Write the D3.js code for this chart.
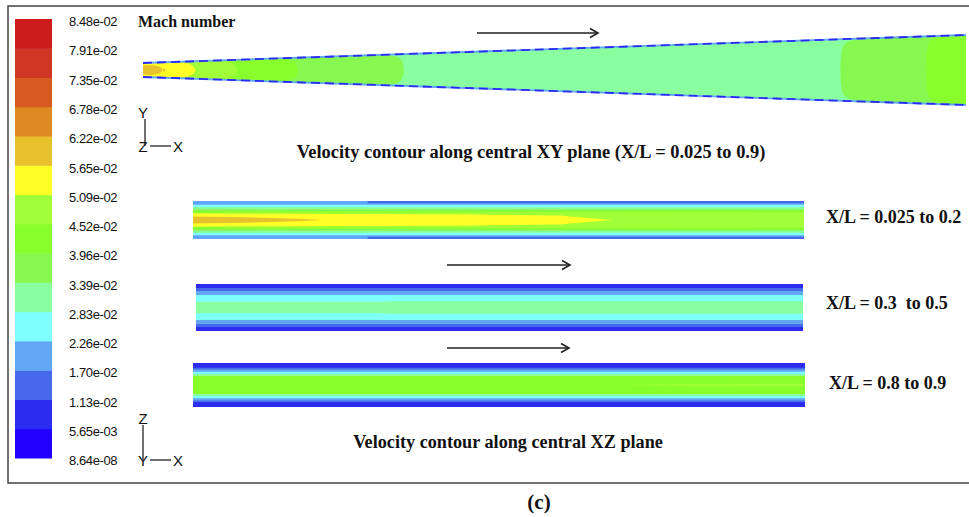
<!DOCTYPE html>
<html>
<head>
<meta charset="utf-8">
<script src="https://cdn.jsdelivr.net/npm/d3@7"></script>
<style>
  body { margin: 0; background: #fff; }
  .serif { font-family: "Liberation Serif", "Times New Roman", serif; font-weight: bold; fill: #111; }
  .sans { font-family: "Liberation Sans", Arial, sans-serif; fill: #111; }
</style>
</head>
<body>
<div id="chart"></div>
<script>
// Mach number levels, bottom to top (16 labels, 15 colour bands)
var levelLabels = ["8.64e-08","5.65e-03","1.13e-02","1.70e-02","2.26e-02","2.83e-02","3.39e-02",
  "3.96e-02","4.52e-02","5.09e-02","5.65e-02","6.22e-02","6.78e-02","7.35e-02","7.91e-02","8.48e-02"];
var levelColors = ["#2200ff","#2c2cf0","#4668ea","#62a6f6","#80ffff","#8affa0","#86f850",
  "#88ff2c","#a0ff38","#ffff26","#e8c22c","#de8a24","#d65a22","#d03624","#cc1c1c"];

// central XY plane: base level and zones along X/L (0.025 to 0.9)
var xyRange = [0.025, 0.9];
var xyBase = 5;
var xyZones = [
  {level: 6, from: 0.025, to: 0.301},
  {level: 7, from: 0.025, to: 0.189},
  {level: 8, from: 0.025, to: 0.125},
  {level: 9, from: 0.025, to: 0.081},
  {level: 10, from: 0.025, to: 0.048},
  {level: 6, from: 0.769, to: 0.9},
  {level: 7, from: 0.860, to: 0.9}
];

// central XZ plane strips: layers as [X/L, half thickness (fraction)] outlines
var xzLabels = ["X/L = 0.025 to 0.2", "X/L = 0.3  to 0.5", "X/L = 0.8 to 0.9"];
var xzRanges = [[0.025, 0.2], [0.3, 0.5], [0.8, 0.9]];
var xz1Layers = [
  {level: 3, pts: [[0.025, 1], [0.2, 1]]},
  {level: 2, pts: [[0.075, 1], [0.2, 1]]},
  {level: 3, pts: [[0.025, 0.88], [0.2, 0.88]]},
  {level: 4, pts: [[0.025, 0.8], [0.2, 0.8]]},
  {level: 5, pts: [[0.025, 0.68], [0.2, 0.68]]},
  {level: 6, pts: [[0.025, 0.57], [0.2, 0.57]]},
  {level: 7, pts: [[0.025, 0.48], [0.2, 0.5]]},
  {level: 8, pts: [[0.025, 0.4], [0.2, 0.42]]},
  {level: 9, pts: [[0.025, 0.34], [0.1, 0.3], [0.13, 0.24], [0.145, 0]]},
  {level: 10, pts: [[0.025, 0.18], [0.04, 0.15], [0.055, 0.06], [0.062, 0]]}
];
var xz2Layers = [
  {level: 1, pts: [[0.3, 1], [0.5, 1]]},
  {level: 2, pts: [[0.3, 0.83], [0.5, 0.83]]},
  {level: 3, pts: [[0.3, 0.7], [0.5, 0.7]]},
  {level: 4, pts: [[0.3, 0.53], [0.5, 0.53]]},
  {level: 5, pts: [[0.3, 0.24], [0.36, 0.24], [0.365, 0.27], [0.5, 0.27]]}
];
var xz3Layers = [
  {level: 1, pts: [[0.8, 1], [0.9, 1]]},
  {level: 2, pts: [[0.8, 0.78], [0.9, 0.78]]},
  {level: 3, pts: [[0.8, 0.7], [0.9, 0.7]]},
  {level: 4, pts: [[0.8, 0.6], [0.9, 0.6]]},
  {level: 5, pts: [[0.8, 0.5], [0.9, 0.5]]},
  {level: 7, pts: [[0.8, 0.41], [0.9, 0.41]]},
  {level: 8, pts: [[0.87, 0], [0.88, 0.04], [0.9, 0.06]]}
];
var xzLayers = [xz1Layers, xz2Layers, xz3Layers];

var width = 969, height = 517;

var svg = d3.select("#chart")
  .append("svg")
    .attr("width", width)
    .attr("height", height);

// frame
svg.append("rect")
  .attr("x", 8).attr("y", 6)
  .attr("width", 975).attr("height", 477)
  .attr("fill", "none")
  .attr("stroke", "#444")
  .attr("stroke-width", 1.5);

// colour bar
var yBar = d3.scaleLinear().domain([0, 15]).range([458, 19]);
svg.append("g")
  .selectAll("rect")
  .data(levelColors)
  .enter()
  .append("rect")
    .attr("x", 15)
    .attr("width", 37)
    .attr("y", function (d, i) { return yBar(i + 1); })
    .attr("height", function (d, i) { return yBar(i) - yBar(i + 1) + 0.5; })
    .attr("fill", function (d) { return d; });

var barAxis = svg.append("g")
  .attr("transform", "translate(52,2.5)")
  .call(d3.axisRight(yBar)
    .tickValues(d3.range(levelLabels.length))
    .tickFormat(function (i) { return levelLabels[i]; })
    .tickSize(0)
    .tickPadding(17));
barAxis.select(".domain").remove();
barAxis.selectAll("text")
  .attr("class", "sans")
  .style("font-size", "13px")
  .style("letter-spacing", "-0.4px")
  .attr("fill", "#111");

svg.append("text")
  .attr("class", "serif")
  .attr("x", 138).attr("y", 27)
  .style("font-size", "16px")
  .text("Mach number");

// ---- XY plane (diverging duct) ----
var xXY = d3.scaleLinear().domain(xyRange).range([143, 966]);
var hXY = d3.scaleLinear().domain(xyRange).range([7, 35]);
var cyXY = 70;

var wedge = [
  [xXY(xyRange[0]), cyXY - hXY(xyRange[0])],
  [xXY(xyRange[1]), cyXY - hXY(xyRange[1])],
  [xXY(xyRange[1]), cyXY + hXY(xyRange[1])],
  [xXY(xyRange[0]), cyXY + hXY(xyRange[0])]
];
svg.append("clipPath").attr("id", "wedgeClip")
  .append("path")
  .attr("d", d3.line().curve(d3.curveLinearClosed)(wedge));

svg.append("path")
  .attr("d", d3.line().curve(d3.curveLinearClosed)(wedge))
  .attr("fill", levelColors[xyBase]);

function zonePath(z) {
  var ins = z.level === 10 ? 3.8 : 2.5;
  var a = xXY(z.from), b = xXY(z.to);
  if (z.from === xyRange[0]) a -= 12;
  if (z.to === xyRange[1]) b += 12;
  var c = Math.min(6, (b - a) / 3);
  var top = function (px) { return cyXY - hXY(xXY.invert(px)) + ins; };
  var bot = function (px) { return cyXY + hXY(xXY.invert(px)) - ins; };
  var pts = [
    [a, top(a) + c], [a + c, top(a + c)], [b - c, top(b - c)], [b, top(b) + c],
    [b, bot(b) - c], [b - c, bot(b - c)], [a + c, bot(a + c)], [a, bot(a) - c]
  ];
  return d3.line().curve(d3.curveCatmullRomClosed.alpha(0.5))(pts);
}

svg.append("g")
  .attr("clip-path", "url(#wedgeClip)")
  .selectAll("path")
  .data(xyZones)
  .enter()
  .append("path")
    .attr("d", zonePath)
    .attr("fill", function (d) { return levelColors[d.level]; });

// duct walls
[-1, 1].forEach(function (s) {
  var edge = d3.line()([
    [xXY(xyRange[0]), cyXY + s * hXY(xyRange[0])],
    [xXY(xyRange[1]), cyXY + s * hXY(xyRange[1])]
  ]);
  svg.append("path").attr("d", edge)
    .attr("stroke", levelColors[3]).attr("stroke-width", 1.8).attr("fill", "none");
  svg.append("path").attr("d", edge)
    .attr("stroke", levelColors[1]).attr("stroke-width", 1.8)
    .attr("stroke-dasharray", "9,5").attr("fill", "none");
});

// ---- XZ plane strips ----
var stripBoxes = [
  {x0: 193, x1: 804, cy: 220, half: 19, lx: 826, ly: 223},
  {x0: 196, x1: 803, cy: 307.5, half: 23.5, lx: 826, ly: 309},
  {x0: 193, x1: 805, cy: 385, half: 22, lx: 829, ly: 389}
];

stripBoxes.forEach(function (box, k) {
  var x = d3.scaleLinear().domain(xzRanges[k]).range([box.x0, box.x1]);
  var y = d3.scaleLinear().domain([-1, 1]).range([box.cy + box.half, box.cy - box.half]);
  var layerPath = function (layer) {
    var upper = layer.pts.map(function (p) { return [x(p[0]), y(p[1])]; });
    var lower = layer.pts.slice().reverse().map(function (p) { return [x(p[0]), y(-p[1])]; });
    return d3.line().curve(d3.curveLinearClosed)(upper.concat(lower));
  };
  svg.append("g")
    .selectAll("path")
    .data(xzLayers[k])
    .enter()
    .append("path")
      .attr("d", layerPath)
      .attr("fill", function (d) { return levelColors[d.level]; });

  svg.append("text")
    .attr("class", "serif")
    .attr("x", box.lx).attr("y", box.ly)
    .style("font-size", "18px")
    .style("white-space", "pre")
    .text(xzLabels[k]);
});

// ---- flow arrows ----
function arrow(x0, x1, y) {
  var g = svg.append("g").attr("stroke", "#222").attr("fill", "none").attr("stroke-width", 1.6);
  g.append("line").attr("x1", x0).attr("x2", x1).attr("y1", y).attr("y2", y);
  g.append("path").attr("d", "M" + (x1 - 8) + "," + (y - 4.5) + "L" + x1 + "," + y + "L" + (x1 - 8) + "," + (y + 4.5));
}
arrow(477, 598, 33);
arrow(447, 570, 265);
arrow(447, 569, 348);

// ---- coordinate triads ----
function triad(vx, yTop, yAxis, up, across, corner) {
  var g = svg.append("g");
  g.append("line").attr("x1", vx).attr("x2", vx).attr("y1", yTop).attr("y2", yAxis)
    .attr("stroke", "#111").attr("stroke-width", 1.2);
  g.append("line").attr("x1", 150).attr("x2", 171).attr("y1", yAxis).attr("y2", yAxis)
    .attr("stroke", "#111").attr("stroke-width", 1.2);
  g.append("text").attr("class", "sans").attr("x", 143).attr("y", yTop - 1)
    .attr("text-anchor", "middle").style("font-size", "15px").text(up);
  g.append("text").attr("class", "sans").attr("x", 143).attr("y", yAxis + 6)
    .attr("text-anchor", "middle").style("font-size", "15px").text(corner);
  g.append("text").attr("class", "sans").attr("x", 178).attr("y", yAxis + 6)
    .attr("text-anchor", "middle").style("font-size", "15px").text(across);
}
triad(145, 119, 146, "Y", "X", "Z");
triad(143, 425, 460, "Z", "X", "Y");

// ---- titles ----
svg.append("text")
  .attr("class", "serif")
  .attr("x", 531).attr("y", 158)
  .attr("text-anchor", "middle")
  .style("font-size", "18.4px")
  .text("Velocity contour along central XY plane (X/L = 0.025 to 0.9)");

svg.append("text")
  .attr("class", "serif")
  .attr("x", 508).attr("y", 448)
  .attr("text-anchor", "middle")
  .style("font-size", "18.2px")
  .text("Velocity contour along central XZ plane");

svg.append("text")
  .attr("class", "serif")
  .attr("x", 539).attr("y", 509)
  .attr("text-anchor", "middle")
  .style("font-size", "21px")
  .text("(c)");
</script>
</body>
</html>
